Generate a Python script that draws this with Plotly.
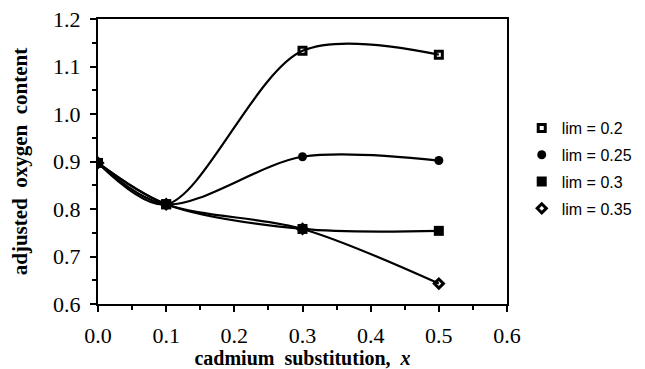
import plotly.graph_objects as go

x_vals = [0.0, 0.1, 0.3, 0.5]
lim_02 = [0.897, 0.810, 1.133, 1.125]
lim_025 = [0.897, 0.810, 0.910, 0.902]
lim_03 = [0.897, 0.810, 0.758, 0.754]
lim_035 = [0.897, 0.810, 0.758, 0.643]
names = ["lim = 0.2", "lim = 0.25", "lim = 0.3", "lim = 0.35"]

series = [lim_02, lim_025, lim_03, lim_035]
markers = [
    dict(symbol="square-open", size=7, color="black", line=dict(width=3, color="black")),
    dict(symbol="circle", size=9, color="black"),
    dict(symbol="square", size=10, color="black"),
    dict(symbol="diamond-open", size=7, color="black", line=dict(width=3, color="black")),
]

fig = go.Figure()
for i, (name, ys, mk) in enumerate(zip(names, series, markers)):
    fig.add_trace(go.Scatter(
        x=x_vals, y=ys, name=name, mode="lines+markers", showlegend=False,
        line=dict(color="black", width=2.2, shape="spline", smoothing=0.9),
        marker=mk,
    ))
for i, (name, mk) in enumerate(zip(names, markers)):
    fig.add_trace(go.Scatter(
        x=[None], y=[None], name=name, mode="markers", marker=mk,
        legendgroup=f"g{i}", showlegend=True,
    ))

serif = "Liberation Serif, Times New Roman, serif"
axis_common = dict(
    showgrid=False, zeroline=False, showline=True, linecolor="black", linewidth=2,
    mirror=True, ticks="outside", ticklen=6, tickwidth=2, tickcolor="black",
    tickfont=dict(family=serif, size=22, color="black"), automargin=False,
)
fig.update_layout(
    width=645, height=369,
    margin=dict(l=98, r=138, t=19, b=65, autoexpand=False),
    paper_bgcolor="white", plot_bgcolor="white",
    xaxis=dict(range=[0, 0.6], dtick=0.1, tickformat=".1f", ticklabelstandoff=5,
               minor=dict(dtick=0.05, ticks="outside", ticklen=4, tickwidth=2, tickcolor="black"),
               title=dict(text="<b>cadmium  substitution,  <i>x</i></b>", standoff=0,
                          font=dict(family=serif, size=20, color="black")),
               **axis_common),
    yaxis=dict(range=[0.6, 1.2], dtick=0.1, tickformat=".1f", ticklabelstandoff=5,
               minor=dict(dtick=0.05, ticks="outside", ticklen=4, tickwidth=2, tickcolor="black"),
               title=dict(text="<b>adjusted  oxygen  content</b>", standoff=20,
                          font=dict(family=serif, size=21, color="black")),
               **axis_common),
    legend=dict(x=1.036, y=0.677, xanchor="left", yanchor="top",
                font=dict(family="Liberation Sans, Arial, sans-serif", size=16, color="black"),
                itemwidth=30, tracegroupgap=3, traceorder="grouped", bgcolor="rgba(0,0,0,0)"),
    showlegend=True,
)
fig.write_html("out.html", config={"displayModeBar": False},
               post_script="document.body.style.margin='0';")
